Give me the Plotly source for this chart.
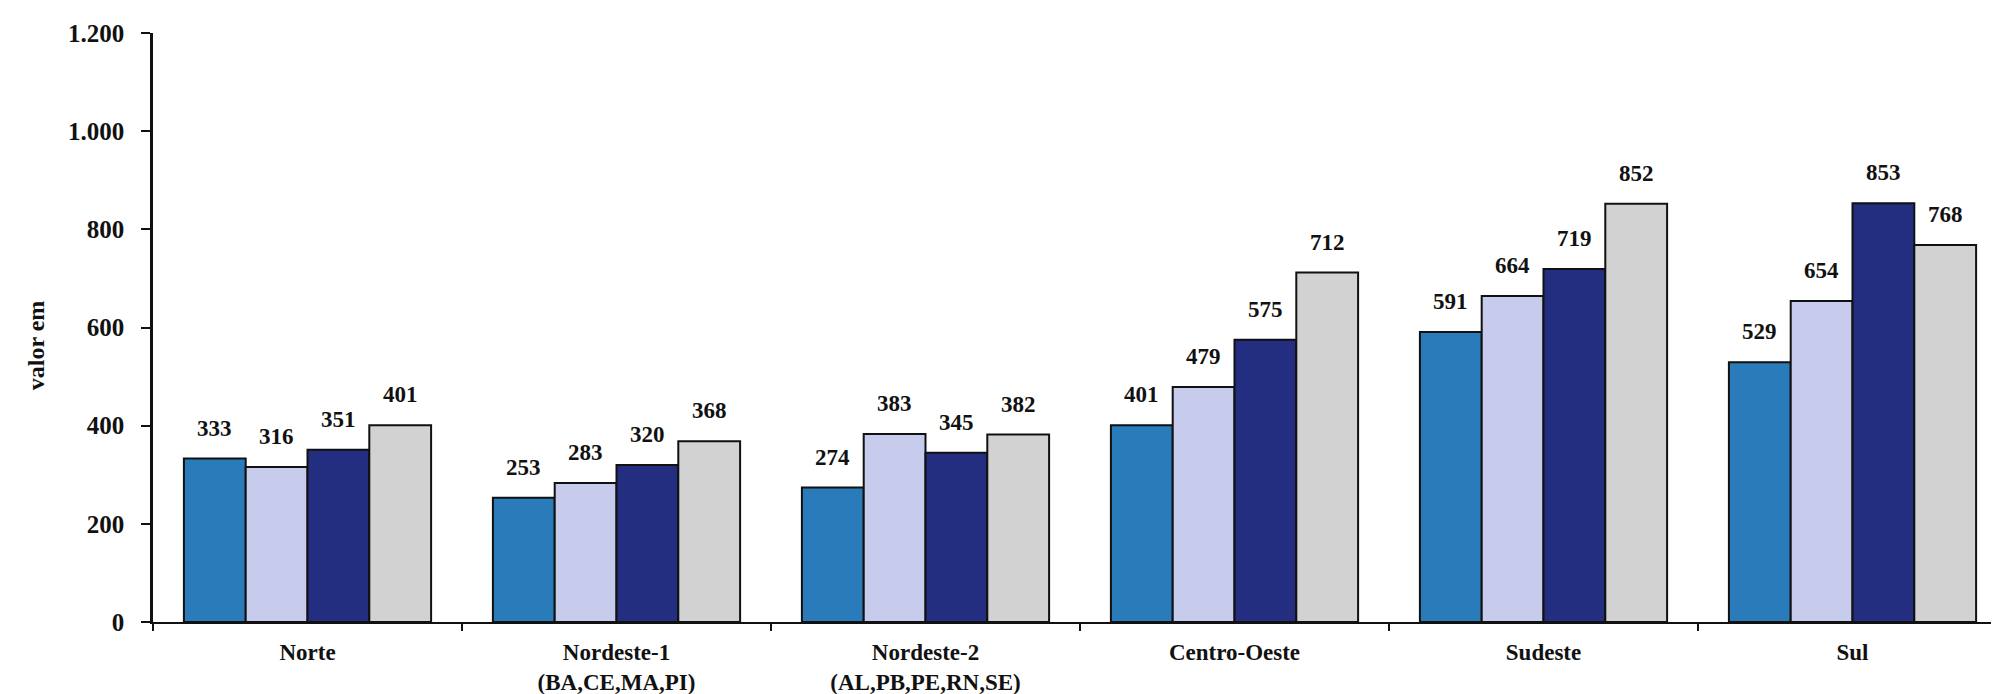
import plotly.graph_objects as go

regioes = ["Norte", "Nordeste-1<br>(BA,CE,MA,PI)", "Nordeste-2<br>(AL,PB,PE,RN,SE)",
           "Centro-Oeste", "Sudeste", "Sul"]

serie_1 = [333, 253, 274, 401, 591, 529]
serie_2 = [316, 283, 383, 479, 664, 654]
serie_3 = [351, 320, 345, 575, 719, 853]
serie_4 = [401, 368, 382, 712, 852, 768]

y_ticks = [0, 200, 400, 600, 800, 1000, 1200]

series = [serie_1, serie_2, serie_3, serie_4]
cores = ["#2A7BBA", "#C7CBEC", "#232E80", "#D2D2D2"]

FONT = "Liberation Serif"
BAR_PX = 61.8  # bar width in pixels, used to place value labels over each bar

fig = go.Figure()
for vals, cor in zip(series, cores):
    fig.add_trace(go.Bar(
        x=regioes, y=vals,
        marker=dict(color=cor, line=dict(color="#111111", width=2)),
        showlegend=False,
    ))

# value labels sit a little above each bar
for i, vals in enumerate(series):
    for reg, v in zip(regioes, vals):
        fig.add_annotation(
            x=reg, y=v, text=str(v), showarrow=False,
            xanchor="center", yanchor="bottom",
            xshift=(i - 1.5) * BAR_PX, yshift=16,
            font=dict(family=FONT, size=23, color="#111111", weight="bold"),
        )

# y-axis title, sits a bit below the middle of the axis
fig.add_annotation(
    text="valor em", textangle=-90, showarrow=False,
    xref="paper", yref="paper", x=0, y=0.47,
    xanchor="center", yanchor="middle", xshift=-117,
    font=dict(family=FONT, size=24, color="#111111", weight="bold"),
)

fig.update_layout(
    width=1999, height=694,
    margin=dict(l=145, r=0, t=25, b=80),
    plot_bgcolor="white", paper_bgcolor="white",
    barmode="group", bargap=0.2, bargroupgap=0,
    separators=",.",
    font=dict(family=FONT, color="#111111"),
)

fig.update_xaxes(
    range=[-0.5, 5.5],
    showline=True, linecolor="#111111", linewidth=2,
    ticks="outside", tickson="boundaries", ticklen=7, tickwidth=2, tickcolor="#111111",
    tickfont=dict(family=FONT, size=23, weight="bold"),
    ticklabelstandoff=8,
    showgrid=False, zeroline=False,
)

fig.update_yaxes(
    range=[0, 1200], tickvals=y_ticks, tickformat=",d",
    showline=True, linecolor="#111111", linewidth=2.5,
    ticks="outside", ticklen=9, tickwidth=2, tickcolor="#111111",
    tickfont=dict(family=FONT, size=25, weight="bold"),
    ticklabelstandoff=12,
    showgrid=False, zeroline=False,
)

fig.write_html("out.html")
